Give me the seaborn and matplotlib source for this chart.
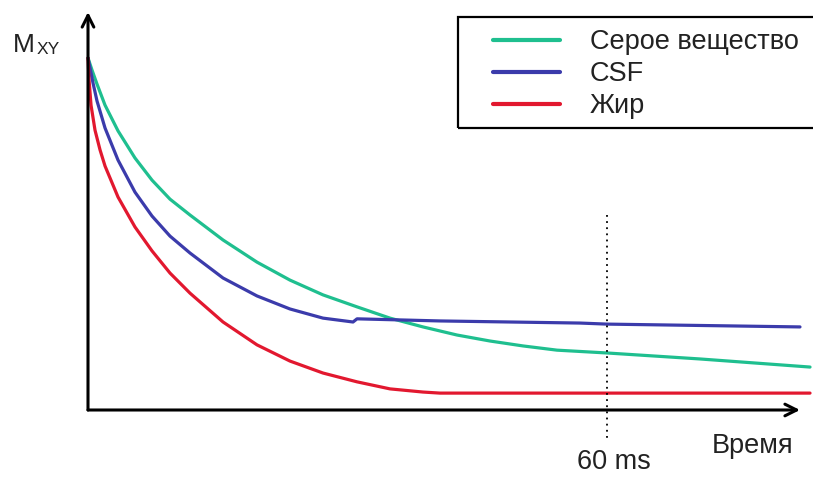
import numpy as np
import pandas as pd
import matplotlib
matplotlib.use("Agg")
import matplotlib.pyplot as plt
from matplotlib.patches import Rectangle
import seaborn as sns

# Transverse magnetisation decay for three tissues (time in ms, Mxy normalised)
grey_t = [0, 0.46, 1.04, 1.97, 3.47, 5.43, 7.40, 9.48, 11.79, 15.61, 19.54, 23.35,
          27.17, 31.10, 34.91, 38.73, 42.66, 46.47, 50.29, 54.22, 60.0, 70.75, 83.47]
grey_m = [1.0, 0.966, 0.926, 0.866, 0.793, 0.716, 0.653, 0.599, 0.554, 0.483, 0.420, 0.369,
          0.327, 0.293, 0.261, 0.236, 0.213, 0.196, 0.182, 0.170, 0.162, 0.145, 0.122]

csf_t = [0, 0.23, 0.58, 1.04, 1.97, 3.47, 5.43, 7.40, 9.48, 11.79, 15.61, 19.54,
         23.35, 27.17, 30.64, 31.10, 40.69, 56.88, 60.0, 82.31]
csf_m = [1.0, 0.972, 0.929, 0.878, 0.801, 0.710, 0.619, 0.551, 0.494, 0.446, 0.375, 0.324,
         0.287, 0.261, 0.250, 0.259, 0.253, 0.247, 0.244, 0.236]

fat_t = [0, 0.12, 0.35, 0.81, 1.39, 1.97, 3.47, 5.43, 7.40, 9.48, 11.79, 15.61,
         19.54, 23.35, 27.17, 31.10, 34.91, 38.73, 40.69, 83.47]
fat_m = [1.0, 0.938, 0.866, 0.795, 0.739, 0.693, 0.605, 0.520, 0.452, 0.389, 0.332, 0.250,
         0.185, 0.139, 0.105, 0.080, 0.060, 0.051, 0.048, 0.048]

labels = ["Серое вещество", "CSF", "Жир"]
colors = ["#1fbf8f", "#3b3bab", "#e2182f"]
echo_time = 60
echo_label = "60 ms"
x_label = "Время"
y_label = "M"
y_sub = "XY"

sns.set_theme(style="white")
plt.rcParams["font.family"] = ["Liberation Sans", "DejaVu Sans"]

W, H = 813, 478
fig = plt.figure(figsize=(W / 100, H / 100), dpi=100)
ax = fig.add_axes([0, 0, 1, 1])

# data scale: origin 88 px from the left, 410 px from the top
px_per_ms = 8.65
px_per_unit = 352
ax.set_xlim(-88 / px_per_ms, (W - 88) / px_per_ms)
ax.set_ylim((410 - H) / px_per_unit, 410 / px_per_unit)
ax.axis("off")

frames = [
    pd.DataFrame({"t": grey_t, "m": grey_m}),
    pd.DataFrame({"t": csf_t, "m": csf_m}),
    pd.DataFrame({"t": fat_t, "m": fat_m}),
]
handles = []
for df, lab, col in zip(frames, labels, colors):
    sns.lineplot(data=df, x="t", y="m", ax=ax, color=col, linewidth=2.3,
                 estimator=None, sort=False, label=lab, legend=False)
    line = ax.lines[-1]
    line.set_solid_joinstyle("round")
    line.set_solid_capstyle("round")
    handles.append(line)

# axes drawn as arrows
x_end = (800 - 88) / px_per_ms
y_end = (410 - 12) / px_per_unit
arrow = dict(arrowstyle="->,head_length=0.7,head_width=0.35", color="black",
             lw=2.2, shrinkA=0, shrinkB=0)
ax.annotate("", xy=(x_end, 0), xytext=(0, 0), arrowprops=arrow)
ax.annotate("", xy=(0, y_end), xytext=(0, 0), arrowprops=arrow)

# echo time marker
ax.plot([echo_time, echo_time], [(410 - 215) / px_per_unit, (410 - 440) / px_per_unit],
        color="black", linestyle=(0, (1, 2.4)), linewidth=1.3)
ax.text((614 - 88) / px_per_ms, (410 - 462) / px_per_unit, echo_label, ha="center", va="center",
        fontsize=19.5, color="#222222")
ax.text((753 - 88) / px_per_ms, (410 - 446) / px_per_unit, x_label, ha="center", va="center",
        fontsize=19.5, color="#222222")

fig.text(13 / W, 1 - 52 / H, y_label, ha="left", va="baseline", fontsize=19, color="#222222")
fig.text(37 / W, 1 - 54 / H, y_sub, ha="left", va="baseline", fontsize=12.5, color="#222222")

# legend
fig.patches.append(Rectangle((458 / W, 1 - 128 / H), (W + 10 - 458) / W, (128 - 17) / H,
                             transform=fig.transFigure, fill=False, edgecolor="black",
                             linewidth=1.6, figure=fig))
leg = ax.legend(handles=handles, labels=labels, loc="upper left",
                bbox_to_anchor=(493 / W, 1 - 29 / H), bbox_transform=fig.transFigure,
                frameon=False, fontsize=19.5, handlelength=2.48, handletextpad=1.1,
                borderpad=0, borderaxespad=0, labelspacing=0.23)
for t in leg.get_texts():
    t.set_color("#222222")
for l in leg.get_lines():
    l.set_linewidth(3.0)

fig.savefig("out.png", dpi=100)
